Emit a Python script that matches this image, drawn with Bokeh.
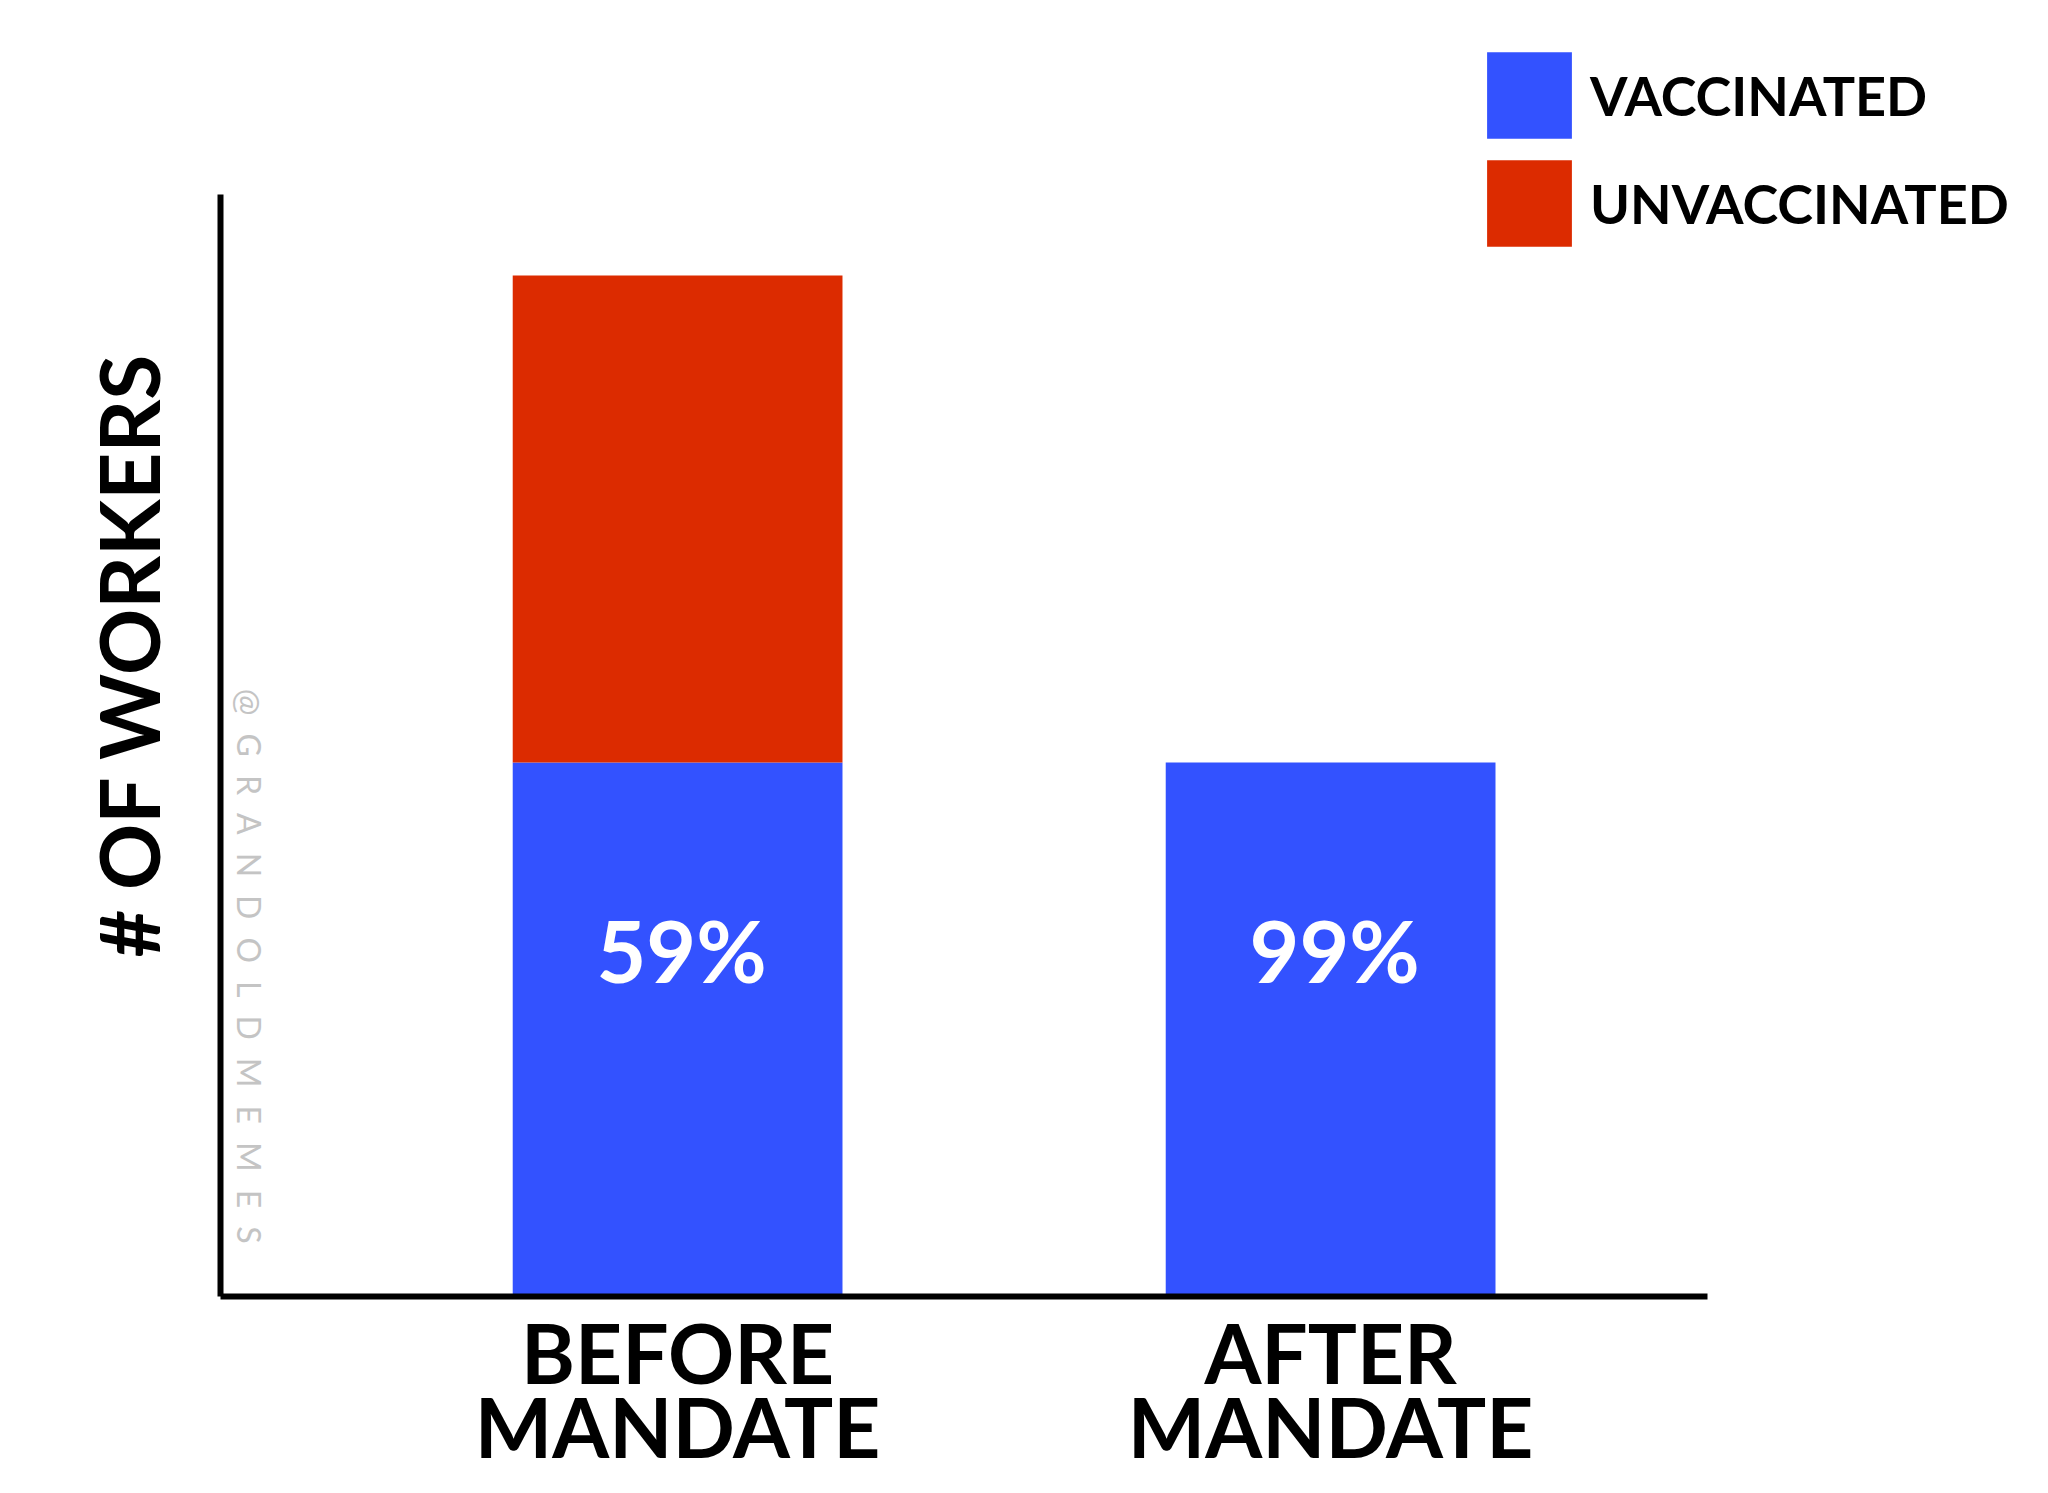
import math
from bokeh.plotting import figure
from bokeh.models import ColumnDataSource, Range1d, FixedTicker, Label, Legend, LegendItem, Title
from bokeh.core.properties import value
from bokeh.embed import file_html
from bokeh.resources import INLINE

# ---- data (arbitrary "# of workers" units) ----
categories = ["BEFORE\nMANDATE", "AFTER\nMANDATE"]
vaccinated = [52.2, 52.2]
unvaccinated = [47.6, 0.0]
pct_labels = ["59%", "99%"]
series = ["VACCINATED", "UNVACCINATED"]
colors = ["#3352FF", "#DC2B00"]
y_title = "# OF WORKERS"
watermark = "@GRANDOLDMEMES"

FONT = "Lato"

xs = list(range(len(categories)))
source = ColumnDataSource(dict(
    x=xs,
    vaccinated=vaccinated,
    unvaccinated=unvaccinated,
    label=pct_labels,
    label_y=[v * 0.65 for v in vaccinated],
))

X0, X_AXIS_END, X1 = -0.700, 1.577, 2.0626
Y_AXIS_END, Y1 = 107.7, 123.75

p = figure(width=2032, height=1477, output_backend="svg", toolbar_location=None,
           x_range=Range1d(X0, X1), y_range=Range1d(0, Y1),
           min_border_left=220, min_border_right=8,
           min_border_top=30, min_border_bottom=181)
p.background_fill_color = "white"
p.border_fill_color = "white"
p.outline_line_color = None
p.xgrid.visible = False
p.ygrid.visible = False

rs = p.vbar_stack(["vaccinated", "unvaccinated"], x="x", width=0.505, source=source,
                  fill_color=colors, line_color=None)

p.text(x="x", y="label_y", text="label", source=source, text_color="white",
       text_font=value(FONT), text_font_size="86px", text_font_style="bold",
       text_align="center", text_baseline="middle", x_offset=4)

legend = Legend(items=[LegendItem(label=series[i], renderers=[rs[i]]) for i in range(len(series))],
                location=(1256, 1039), glyph_width=106, glyph_height=108,
                label_height=108, spacing=0, padding=0, margin=0, label_standoff=8,
                label_text_font=FONT, label_text_font_size="54px", label_text_font_style="bold",
                label_text_color="black", border_line_color=None, background_fill_alpha=0)
p.add_layout(legend)

spaced = "\u2002\u200a".join(list(watermark))
wm = Label(x=-0.656, y=59.4, text=spaced,
           angle=-math.pi / 2, text_align="left", text_baseline="middle",
           text_color="#c4c4c4", text_font=FONT, text_font_size="32px")
p.add_layout(wm)

# x axis
p.xaxis.bounds = (X0, X_AXIS_END)
p.xaxis.ticker = FixedTicker(ticks=xs)
p.xaxis.major_label_overrides = {i: c for i, c in enumerate(categories)}
p.xaxis.major_tick_line_color = None
p.xaxis.minor_tick_line_color = None
p.xaxis.axis_line_width = 6
p.xaxis.axis_line_color = "black"
p.xaxis.major_label_text_font = FONT
p.xaxis.major_label_text_font_size = "82px"
p.xaxis.major_label_text_font_style = "bold"
p.xaxis.major_label_text_color = "black"
p.xaxis.major_label_text_line_height = 0.76
p.xaxis.major_label_standoff = 0

# y axis
p.yaxis.bounds = (0, Y_AXIS_END)
p.yaxis.ticker = FixedTicker(ticks=[])
p.yaxis.major_tick_line_color = None
p.yaxis.minor_tick_line_color = None
p.yaxis.axis_line_width = 6
p.yaxis.axis_line_color = "black"

yt = Title(text=y_title, align="left", offset=339, text_font=FONT, text_font_size="82px",
           text_font_style="bold", text_color="black", standoff=88)
p.add_layout(yt, "left")

open("out.html", "w").write(file_html(p, INLINE))
